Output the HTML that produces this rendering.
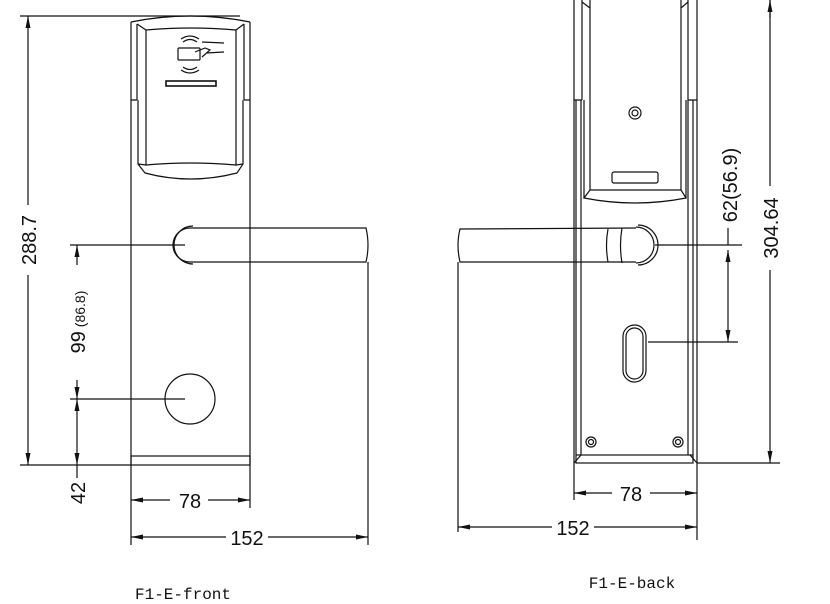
<!DOCTYPE html>
<html><head><meta charset="utf-8"><style>
html,body{margin:0;padding:0;background:#fff;}
svg{display:block;}
text{font-family:"Liberation Sans",sans-serif;fill:#111;}
.t{font-family:"Liberation Mono",monospace;font-size:16px;}
</style></head><body>
<svg width="830" height="604" viewBox="0 0 830 604" xmlns="http://www.w3.org/2000/svg">
<defs>
<marker id="a" viewBox="0 0 12 6" refX="12" refY="3" markerWidth="12" markerHeight="6" orient="auto-start-reverse" markerUnits="userSpaceOnUse"><path d="M0,0.5 L12,3 L0,5.5z" fill="#111"/></marker>
</defs>
<g fill="none" stroke="#111" stroke-width="1.2">
<!-- FRONT -->
<path d="M131,22 Q190,10 250,22"/>
<line x1="131" y1="22" x2="131" y2="465"/>
<line x1="250" y1="22" x2="250" y2="465"/>
<path d="M137,24 L137,100 M244,24 L244,100 M131,100 L137,100 M244,100 L250,100"/>
<path d="M137,24 L146,30 M244,24 L236,30"/>
<path d="M146,30 Q190,26 236,30 L236,165 Q190,161 146,165 Z"/>
<path d="M138,164 L146,165 M243,164 L236,165 M138,100 L138,164 L145,173 Q190,185 237,173 L243,164 L243,100"/>
<rect x="178" y="48" width="22" height="12" rx="1"/>
<path d="M183,42 Q190,37 197,42 M181,39 Q190,33 199,39 M183,67 Q190,72 197,67 M181,70 Q190,76 199,70"/>
<path d="M202,42 L224,43 M195,52 L205,48 L210,50 L202,57 M206,53 L224,52"/>
<rect x="166" y="81" width="50" height="5" stroke-width="1.6"/>
<rect x="131" y="456" width="119" height="9"/>
<path d="M190,228 L366,228 Q370,245 366,262 L190,262 A17,17 0 0 1 190,228"/>
<path d="M193,226 A19,19 0 0 0 193,264"/>
<circle cx="190" cy="399" r="25"/>
<!-- front dims -->
<line x1="20" y1="16" x2="240" y2="16"/>
<line x1="20" y1="465" x2="131" y2="465"/>
<line x1="28" y1="205" x2="28" y2="16" marker-end="url(#a)"/>
<line x1="28" y1="275" x2="28" y2="465" marker-end="url(#a)"/>
<line x1="70" y1="245" x2="185" y2="245"/>
<line x1="70" y1="399" x2="185" y2="399"/>
<line x1="77" y1="245" x2="77" y2="265" marker-start="url(#a)"/>
<line x1="77" y1="380" x2="77" y2="399" marker-end="url(#a)"/>
<line x1="77" y1="399" x2="77" y2="465" marker-start="url(#a)" marker-end="url(#a)"/>
<line x1="77" y1="465" x2="77" y2="478"/>
<line x1="131" y1="465" x2="131" y2="545"/>
<line x1="250" y1="465" x2="250" y2="508"/>
<line x1="368" y1="262" x2="368" y2="545"/>
<line x1="131" y1="500" x2="170" y2="500" marker-start="url(#a)"/>
<line x1="208" y1="500" x2="250" y2="500" marker-end="url(#a)"/>
<line x1="131" y1="537" x2="226" y2="537" marker-start="url(#a)"/>
<line x1="268" y1="537" x2="368" y2="537" marker-end="url(#a)"/>
<!-- BACK -->
<line x1="574" y1="0" x2="574" y2="463"/>
<line x1="697" y1="0" x2="697" y2="463"/>
<path d="M582,0 L582,100 M574,100 L582,100 M688,0 L688,100 M688,100 L697,100"/>
<path d="M581,100 L581,455 M576,100 L576,455 M688,100 L688,455 M693,100 L693,455"/>
<path d="M590,0 L590,190 L681,190 L681,0 M582,2 L590,8 M688,2 L681,8"/>
<path d="M584,100 L584,198 M686,100 L686,198 M590,190 L584,198 Q635,208 686,198 L681,190"/>
<circle cx="635" cy="113" r="6"/><circle cx="635" cy="113" r="3"/>
<rect x="612" y="172" width="46" height="11" rx="2"/>
<path d="M636,228 L460,229 Q456,245 460,262 L636,262"/>
<path d="M636,227 A18,18 0 0 1 636,263 M638,225 A20,20 0 0 1 638,265"/>
<path d="M608,229 Q605,245 608,262 M622,228 Q619,245 622,263"/>
<rect x="623" y="325" width="23" height="57" rx="11.5"/>
<rect x="626" y="328" width="17" height="51" rx="8.5"/>
<circle cx="591" cy="442" r="5"/><circle cx="591" cy="442" r="2.5"/>
<circle cx="678" cy="442" r="5"/><circle cx="678" cy="442" r="2.5"/>
<rect x="576" y="455" width="117" height="8"/>
<path d="M574,463 L581,455 M697,463 L690,455"/>
<!-- back dims -->
<line x1="697" y1="463" x2="780" y2="463"/>
<line x1="770" y1="0" x2="770" y2="186"/>
<line x1="770" y1="270" x2="770" y2="463" marker-end="url(#a)"/>
<line x1="770" y1="18" x2="770" y2="0" marker-end="url(#a)"/>
<line x1="655" y1="245" x2="742" y2="245"/>
<line x1="648" y1="342" x2="738" y2="342"/>
<line x1="728" y1="228" x2="728" y2="245"/>
<line x1="728" y1="250" x2="728" y2="342" marker-start="url(#a)" marker-end="url(#a)"/>
<line x1="458" y1="262" x2="458" y2="532"/>
<line x1="574" y1="463" x2="574" y2="500"/>
<line x1="697" y1="463" x2="697" y2="540"/>
<line x1="574" y1="493" x2="612" y2="493" marker-start="url(#a)"/>
<line x1="650" y1="493" x2="697" y2="493" marker-end="url(#a)"/>
<line x1="458" y1="527" x2="552" y2="527" marker-start="url(#a)"/>
<line x1="594" y1="527" x2="697" y2="527" marker-end="url(#a)"/>
</g>
<g>
<text x="190" y="508" font-size="20" text-anchor="middle">78</text>
<text x="247" y="545" font-size="20" text-anchor="middle">152</text>
<text x="631" y="501" font-size="20" text-anchor="middle">78</text>
<text x="573" y="535" font-size="20" text-anchor="middle">152</text>
<text transform="translate(36,240) rotate(-90)" font-size="20" text-anchor="middle">288.7</text>
<text transform="translate(85,322) rotate(-90)" font-size="20" text-anchor="middle">99<tspan font-size="14"> (86.8)</tspan></text>
<text transform="translate(85,493) rotate(-90)" font-size="20" text-anchor="middle">42</text>
<text transform="translate(737,185) rotate(-90)" font-size="20" text-anchor="middle">62(56.9)</text>
<text transform="translate(778,228) rotate(-90)" font-size="20" text-anchor="middle">304.64</text>
<text class="t" x="183" y="599" text-anchor="middle">F1-E-front</text>
<text class="t" x="632" y="588" text-anchor="middle">F1-E-back</text>
</g>
</svg>
</body></html>
